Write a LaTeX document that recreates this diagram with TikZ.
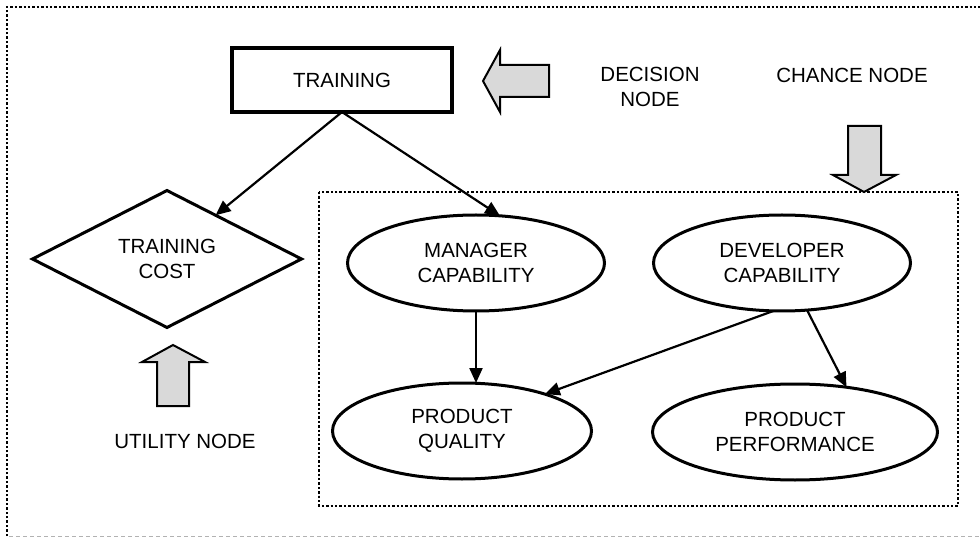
\documentclass[tikz,border=0pt]{standalone}
\usepackage{fontspec}
\setmainfont{Liberation Sans}
\usetikzlibrary{arrows.meta, shapes.geometric}
\definecolor{markerGray}{RGB}{217,217,217}

\begin{document}
\begin{tikzpicture}[x=1pt, y=-1pt,
        every node/.style={font=\fontsize{20.5}{24.5}\selectfont, align=center, inner sep=0pt, outer sep=0pt},
        chance/.style={draw, ellipse, line width=3pt, minimum width=257pt, minimum height=96pt},
        link/.style={line width=2.2pt, -{Triangle[length=15pt, width=13pt]}},
        marker/.style={draw, line width=2pt, fill=markerGray, line join=miter},
        frameDots/.style={line width=2.4pt, dash pattern=on 2.4pt off 2pt}]
    \useasboundingbox (0,0) rectangle (980,537);
    % frames
    \draw [frameDots] (7,536) -- (7,7) -- (980,7);
    \draw [gray!60, line width=1pt, dash pattern=on 4pt off 3pt] (9,536) -- (980,536);
    \draw [frameDots] (319,192) rectangle (958,506);
    % decision and utility nodes
    \node [draw, rectangle, line width=4pt, minimum width=220pt, minimum height=64pt] (training) at (342,80) {TRAINING};
    \node [draw, diamond, line width=3pt, minimum width=269pt, minimum height=136pt] (cost) at (167,259) {TRAINING\\COST};
    % chance nodes
    \node [chance] (manager) at (476,263) {MANAGER\\CAPABILITY};
    \node [chance] (developer) at (782,263) {DEVELOPER\\CAPABILITY};
    \node [chance, minimum width=259pt] (quality) at (462,431) {PRODUCT\\QUALITY};
    \node [chance, minimum width=285pt] (performance) at (795,432) {PRODUCT\\PERFORMANCE};
    % links
    \draw [link] (training.south) -- (cost.42);
    \draw [link] (training.south) -- (manager.63);
    \draw [link] (manager.south) -- (manager.south |- quality.north);
    \draw [link] (developer.260) -- (quality.24);
    \draw [link] (developer.298) -- (performance.41);
    % legend
    \node (decisionLabel) at (650,87) {DECISION\\NODE};
    \node (chanceLabel) at (852,75) {CHANCE NODE};
    \node (utilityLabel) at (185,441) {UTILITY NODE};
    \draw [marker] (483,81) -- (500,50) -- (500,65) -- (549,65) -- (549,97) -- (500,97) -- (500,112) -- cycle;
    \draw [marker] (864,192) -- (833,175) -- (848,175) -- (848,126) -- (881,126) -- (881,175) -- (896,175) -- cycle;
    \draw [marker] (173,345) -- (142,362) -- (157,362) -- (157,406) -- (189,406) -- (189,362) -- (205,362) -- cycle;
\end{tikzpicture}
\end{document}
